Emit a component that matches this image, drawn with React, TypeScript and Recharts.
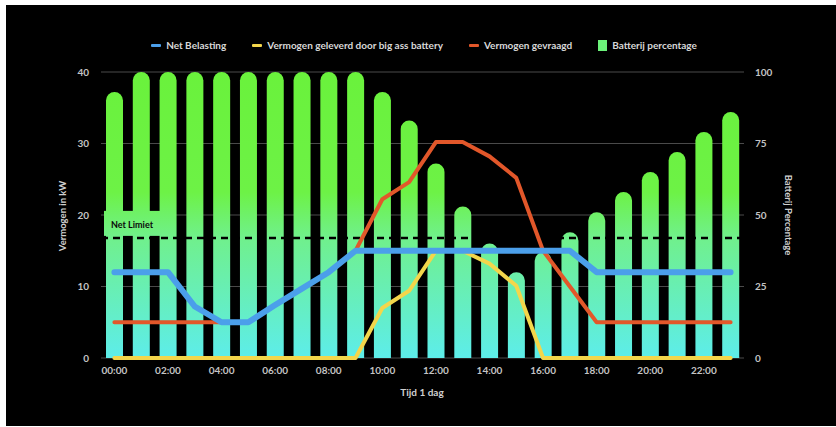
import React from 'react';
import {
  ComposedChart,
  Bar,
  Line,
  XAxis,
  YAxis,
  CartesianGrid,
  ReferenceLine,
} from 'recharts';

// Uren van de dag
const hours = [
  '00:00', '01:00', '02:00', '03:00', '04:00', '05:00', '06:00', '07:00',
  '08:00', '09:00', '10:00', '11:00', '12:00', '13:00', '14:00', '15:00',
  '16:00', '17:00', '18:00', '19:00', '20:00', '21:00', '22:00', '23:00',
];

// Batterij percentage (rechter as)
const batteryPct = [93, 100, 100, 100, 100, 100, 100, 100, 100, 100, 93, 83, 68, 53, 40, 30, 37, 44, 51, 58, 65, 72, 79, 86];

// Net Belasting in kW
const netLoad = [12, 12, 12, 7.2, 5, 5, 7.4, 9.7, 12, 15, 15, 15, 15, 15, 15, 15, 15, 15, 12, 12, 12, 12, 12, 12];

// Vermogen geleverd door big ass battery in kW
const batterySupply = [0, 0, 0, 0, 0, 0, 0, 0, 0, 0, 7, 9.4, 15, 15, 13.2, 10.1, 0, 0, 0, 0, 0, 0, 0, 0];

// Vermogen gevraagd in kW
const demand = [5, 5, 5, 5, 5, 5, 7.4, 9.7, 12, 15, 22.2, 24.6, 30.2, 30.2, 28.2, 25.2, 15, 10, 5, 5, 5, 5, 5, 5];

const leftTicks = [0, 10, 20, 30, 40];
const rightTicks = [0, 25, 50, 75, 100];
const netLimit = 16.8;

const data = hours.map((h, i) => ({
  hour: h,
  pct: batteryPct[i],
  net: netLoad[i],
  supply: batterySupply[i],
  demand: demand[i],
}));

const FONT = 'Lato, "Open Sans", sans-serif';
const tickStyle = { fill: '#c4c4c4', fontSize: 10, fontWeight: 700, fontFamily: FONT };

const legendItems = [
  { label: 'Net Belasting', color: '#4B9FEA', kind: 'line' },
  { label: 'Vermogen geleverd door big ass battery', color: '#F3D64B', kind: 'line' },
  { label: 'Vermogen gevraagd', color: '#E2572A', kind: 'line' },
  { label: 'Batterij percentage', color: '#6CF27A', kind: 'square' },
];

// label met groene achtergrond en zwarte eindjes aan de lijn
const NetLimietLabel = (props: any) => {
  const { viewBox } = props;
  if (!viewBox) return null;
  const { x, y, width } = viewBox;
  return (
    <g>
      <rect x={x + 3} y={y - 27} width={68} height={25} fill="url(#barGrad)" />
      <text x={x + 10} y={y - 10} fill="#0a0a0a" fontSize={9} fontWeight={700} fontFamily={FONT}>
        Net Limiet
      </text>
      <circle cx={x} cy={y} r={3.5} fill="#000" />
      <circle cx={x + width} cy={y} r={3.5} fill="#000" />
    </g>
  );
};

export default function App() {
  return (
    <div style={{ position: 'relative', width: 836, height: 427, background: '#fff', overflow: 'hidden' }}>
      <style>{'body{margin:0}'}</style>
      <div style={{ position: 'absolute', left: 6, top: 5, right: 0, bottom: 1, background: '#000' }} />

      <div style={{ position: 'absolute', left: 0, top: 0 }}>
        <ComposedChart
          width={836}
          height={427}
          data={data}
          margin={{ top: 72, right: 52, bottom: 39, left: 61 }}
          barCategoryGap={5}
        >
          <defs>
            <linearGradient id="barGrad" gradientUnits="userSpaceOnUse" x1="0" y1="72" x2="0" y2="358">
              <stop offset="0%" stopColor="#6AF23C" />
              <stop offset="42%" stopColor="#6DF246" />
              <stop offset="58%" stopColor="#70F08C" />
              <stop offset="100%" stopColor="#5DEDEA" />
            </linearGradient>
          </defs>
          <CartesianGrid yAxisId="left" vertical={false} stroke="#4a4a4a" strokeWidth={1} />
          <XAxis
            dataKey="hour"
            interval={1}
            tickLine={false}
            axisLine={false}
            tickMargin={3}
            height={30}
            tick={tickStyle}
          />
          <YAxis
            yAxisId="left"
            domain={[0, 40]}
            ticks={leftTicks}
            width={40}
            tickLine={false}
            axisLine={false}
            tickMargin={6}
            tick={tickStyle}
          />
          <YAxis
            yAxisId="right"
            orientation="right"
            domain={[0, 100]}
            ticks={rightTicks}
            width={40}
            tickLine={false}
            axisLine={false}
            tickMargin={5}
            tick={tickStyle}
          />
          <Bar
            yAxisId="right"
            dataKey="pct"
            fill="url(#barGrad)"
            radius={[11, 11, 0, 0]}
            isAnimationActive={false}
          />
          <ReferenceLine
            yAxisId="left"
            y={netLimit}
            stroke="#000"
            strokeWidth={2.5}
            strokeDasharray="7 5"
            label={<NetLimietLabel />}
          />
          <Line
            yAxisId="left"
            dataKey="supply"
            type="linear"
            stroke="#F3D64B"
            strokeWidth={4}
            strokeLinecap="round"
            strokeLinejoin="round"
            dot={false}
            activeDot={false}
            isAnimationActive={false}
          />
          <Line
            yAxisId="left"
            dataKey="demand"
            type="linear"
            stroke="#E2572A"
            strokeWidth={4}
            strokeLinecap="round"
            strokeLinejoin="round"
            dot={false}
            activeDot={false}
            isAnimationActive={false}
          />
          <Line
            yAxisId="left"
            dataKey="net"
            type="linear"
            stroke="#4B9FEA"
            strokeWidth={6}
            strokeLinecap="round"
            strokeLinejoin="round"
            dot={false}
            activeDot={false}
            isAnimationActive={false}
          />
        </ComposedChart>
      </div>

      {/* legenda */}
      <div
        style={{
          position: 'absolute',
          left: 101,
          width: 646,
          top: 39,
          display: 'flex',
          justifyContent: 'center',
          alignItems: 'center',
          gap: 26,
          fontFamily: FONT,
          fontWeight: 700,
          fontSize: 10,
          color: '#d8d8d8',
          whiteSpace: 'nowrap',
        }}
      >
        {legendItems.map((it) => (
          <div key={it.label} style={{ display: 'flex', alignItems: 'center', gap: 5 }}>
            {it.kind === 'line' ? (
              <span style={{ display: 'inline-block', width: 10, height: 3, background: it.color, borderRadius: 1 }} />
            ) : (
              <span style={{ display: 'inline-block', width: 9, height: 11, background: it.color }} />
            )}
            <span>{it.label}</span>
          </div>
        ))}
      </div>

      {/* as titels */}
      <div
        style={{
          position: 'absolute',
          left: 62,
          top: 216,
          transform: 'translate(-50%, -50%) rotate(-90deg)',
          fontFamily: FONT,
          fontWeight: 700,
          fontSize: 9.5,
          color: '#d0d0d0',
          whiteSpace: 'nowrap',
        }}
      >
        Vermogen in kW
      </div>
      <div
        style={{
          position: 'absolute',
          left: 788,
          top: 215,
          transform: 'translate(-50%, -50%) rotate(90deg)',
          fontFamily: FONT,
          fontWeight: 700,
          fontSize: 9.5,
          color: '#d0d0d0',
          whiteSpace: 'nowrap',
        }}
      >
        Batterij Percentage
      </div>
      <div
        style={{
          position: 'absolute',
          left: 422,
          top: 392,
          transform: 'translate(-50%, -50%)',
          fontFamily: FONT,
          fontWeight: 700,
          fontSize: 10,
          color: '#d0d0d0',
          whiteSpace: 'nowrap',
        }}
      >
        Tijd 1 dag
      </div>
    </div>
  );
}
